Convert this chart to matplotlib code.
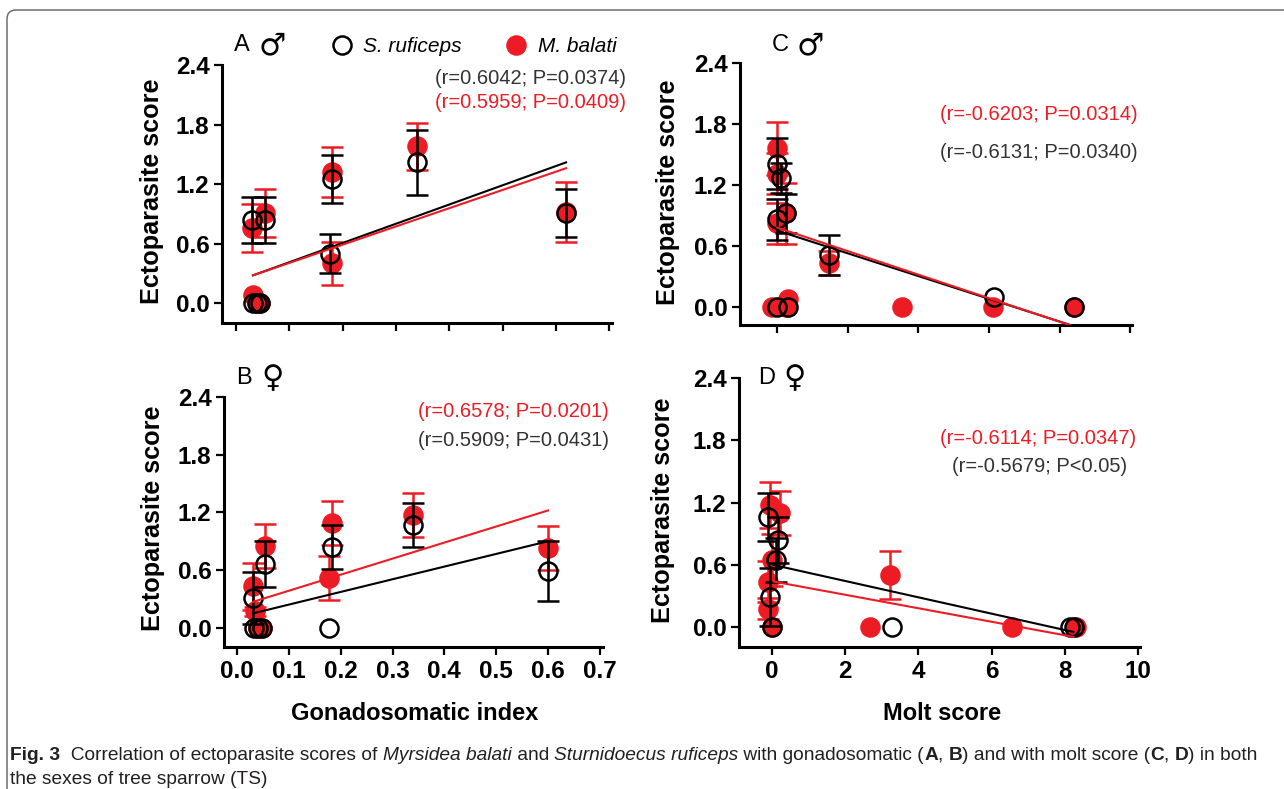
import numpy as np
import matplotlib
matplotlib.use('Agg')
import matplotlib.pyplot as plt
from matplotlib.lines import Line2D
from matplotlib.patches import FancyBboxPatch
from matplotlib.transforms import IdentityTransform

# ---- data ----
# panel A : males, gonadosomatic index
xA_sr = [0.030, 0.054, 0.033, 0.039, 0.046, 0.181, 0.177, 0.340, 0.619]
yA_sr = [0.84, 0.84, 0.0, 0.0, 0.0, 1.25, 0.50, 1.42, 0.91]
eA_sr = [0.23, 0.23, 0.0, 0.0, 0.0, 0.24, 0.20, 0.33, 0.24]
xA_mb = [0.030, 0.054, 0.032, 0.039, 0.046, 0.180, 0.180, 0.340, 0.619]
yA_mb = [0.76, 0.91, 0.08, 0.0, 0.0, 1.32, 0.40, 1.58, 0.92]
eA_mb = [0.24, 0.24, 0.0, 0.0, 0.0, 0.25, 0.22, 0.24, 0.30]

# panel B : females, gonadosomatic index
xB_sr = [0.031, 0.054, 0.183, 0.178, 0.340, 0.600, 0.033, 0.040, 0.048]
yB_sr = [0.31, 0.66, 0.84, 0.0, 1.07, 0.59, 0.0, 0.0, 0.0]
eB_sr = [0.27, 0.24, 0.23, 0.0, 0.23, 0.31, 0.0, 0.0, 0.0]
xB_mb = [0.031, 0.035, 0.054, 0.183, 0.178, 0.340, 0.600, 0.040, 0.048]
yB_mb = [0.43, 0.17, 0.85, 1.09, 0.52, 1.17, 0.83, 0.0, 0.0]
eB_mb = [0.24, 0.05, 0.23, 0.23, 0.23, 0.23, 0.23, 0.0, 0.0]

# panel C : males, molt score
xC_sr = [0.0, 0.1, 0.0, 0.25, 1.46, 6.13, 0.0, 0.3, 8.4]
yC_sr = [1.41, 1.27, 0.86, 0.92, 0.51, 0.10, 0.0, 0.0, 0.0]
eC_sr = [0.25, 0.15, 0.20, 0.19, 0.20, 0.0, 0.0, 0.0, 0.0]
xC_mb = [0.0, 0.0, 0.0, 0.25, 1.46, 3.53, 6.10, 8.40, -0.15, 0.25, 0.3]
yC_mb = [1.56, 1.31, 0.82, 0.92, 0.43, 0.0, 0.0, 0.0, 0.0, 0.0, 0.08]
eC_mb = [0.26, 0.20, 0.20, 0.30, 0.12, 0.0, 0.0, 0.0, 0.0, 0.0, 0.0]

# panel D : females, molt score
xD_sr = [-0.1, 0.17, 0.1, -0.05, 0.0, 3.27, 8.15, 8.25]
yD_sr = [1.06, 0.84, 0.65, 0.29, 0.0, 0.0, 0.0, 0.0]
eD_sr = [0.23, 0.22, 0.21, 0.28, 0.0, 0.0, 0.0, 0.0]
xD_mb = [-0.05, 0.22, 0.0, -0.1, -0.1, 0.0, 3.22, 2.68, 6.55, 8.3]
yD_mb = [1.18, 1.10, 0.65, 0.44, 0.18, 0.0, 0.50, 0.0, 0.0, 0.0]
eD_mb = [0.22, 0.21, 0.25, 0.20, 0.10, 0.0, 0.23, 0.0, 0.0, 0.0]

# regression lines: slope, intercept, x range
fitA_sr = (1.94, 0.218, 0.032, 0.619)
fitA_mb = (1.84, 0.221, 0.032, 0.619)
fitB_sr = (1.318, 0.109, 0.031, 0.600)
fitB_mb = (1.67, 0.218, 0.031, 0.600)
fitC_sr = (-0.112, 0.75, 0.0, 8.3)
fitC_mb = (-0.116, 0.78, 0.0, 8.3)
fitD_sr = (-0.0787, 0.603, 0.04, 8.23)
fitD_mb = (-0.065, 0.443, 0.04, 8.23)

statsA = ['(r=0.6042; P=0.0374)', '(r=0.5959; P=0.0409)']
statsB = ['(r=0.5909; P=0.0431)', '(r=0.6578; P=0.0201)']
statsC = ['(r=-0.6131; P=0.0340)', '(r=-0.6203; P=0.0314)']
statsD = ['(r=-0.5679; P<0.05)', '(r=-0.6114; P=0.0347)']

RED = '#ed1c24'
W, H = 1284, 789

fig = plt.figure(figsize=(W / 100, H / 100), dpi=100)


def rect(l, t, r, b):
    return [l / W, 1 - b / H, (r - l) / W, (b - t) / H]


def fpos(x, y):
    return x / W, 1 - y / H


def panel(box, xs, ys, es, xm, ym, em, fit_s, fit_m, xlim, ylim, xticks, xfmt, show_xlab):
    ax = fig.add_axes(rect(*box))
    for x, y, e, c, filled in [(xm, ym, em, RED, True), (xs, ys, es, 'black', False)]:
        x = np.array(x); y = np.array(y); e = np.array(e)
        m = e > 0
        ax.errorbar(x[m], y[m], yerr=e[m], fmt='none', ecolor=c, elinewidth=1.8,
                    capsize=8, capthick=1.8, zorder=2 if filled else 4)
        ax.plot(x, y, 'o', ms=13, mfc=c if filled else 'none', mec=c, mew=1.8,
                zorder=3 if filled else 5)
    for fit, c in [(fit_s, 'black'), (fit_m, RED)]:
        k, b, x0, x1 = fit
        xx = np.array([x0, x1])
        ax.plot(xx, k * xx + b, color=c, lw=1.5, zorder=6)
    ax.set_xlim(*xlim)
    ax.set_ylim(*ylim)
    ax.set_yticks([0, 0.6, 1.2, 1.8, 2.4])
    ax.set_yticklabels(['%.1f' % v for v in [0, 0.6, 1.2, 1.8, 2.4]])
    ax.set_xticks(xticks)
    ax.set_xticklabels([xfmt % v for v in xticks] if show_xlab else [])
    for s in ['top', 'right']:
        ax.spines[s].set_visible(False)
    for s in ['left', 'bottom']:
        ax.spines[s].set_linewidth(2.2)
    ax.tick_params(width=1.6, length=6, pad=3, labelsize=17.5)
    for lab in ax.get_xticklabels() + ax.get_yticklabels():
        lab.set_fontweight('bold')
        lab.set_family('Liberation Sans')
    return ax


gsi_ticks = [0.0, 0.1, 0.2, 0.3, 0.4, 0.5, 0.6, 0.7]
molt_ticks = [0, 2, 4, 6, 8, 10]

panel((222, 65, 612, 323), xA_sr, yA_sr, eA_sr, xA_mb, yA_mb, eA_mb, fitA_sr, fitA_mb,
      (-0.026, 0.705), (-0.2, 2.4), gsi_ticks, '%.1f', False)
panel((224, 397, 603, 647), xB_sr, yB_sr, eB_sr, xB_mb, yB_mb, eB_mb, fitB_sr, fitB_mb,
      (-0.025, 0.706), (-0.2, 2.4), gsi_ticks, '%.1f', True)
panel((740, 63, 1132, 325), xC_sr, yC_sr, eC_sr, xC_mb, yC_mb, eC_mb, fitC_sr, fitC_mb,
      (-1.05, 10.05), (-0.18, 2.4), molt_ticks, '%d', False)
panel((739, 378, 1140, 647), xD_sr, yD_sr, eD_sr, xD_mb, yD_mb, eD_mb, fitD_sr, fitD_mb,
      (-0.9, 10.05), (-0.19, 2.4), molt_ticks, '%d', True)

# y labels
for x, y in [(152, 191), (153, 518), (668, 192), (663, 510)]:
    fig.text(*fpos(x, y), 'Ectoparasite score', rotation=90, ha='center', va='center',
             fontsize=18.2, fontweight='bold', family='Liberation Sans')

# x labels
fig.text(*fpos(415, 713), 'Gonadosomatic index', ha='center', va='center',
         fontsize=17, fontweight='bold', family='Liberation Sans')
fig.text(*fpos(942, 713), 'Molt score', ha='center', va='center',
         fontsize=17, fontweight='bold', family='Liberation Sans')

# panel letters and sex symbols
for x, y, s, sym in [(234, 45, 'A', '\u2642'), (236, 378, 'B', '\u2640'),
                     (772, 45, 'C', '\u2642'), (758, 378, 'D', '\u2640')]:
    fig.text(*fpos(x, y), s, ha='left', va='center', fontsize=17, family='Liberation Sans')
    fig.text(*fpos(x + 25, y + 1), sym, ha='left', va='center', fontsize=22, family='DejaVu Sans')

# r / P statistics
stat_pos = [(statsA, (435, 79), (435, 103)), (statsB, (418, 441), (418, 412)),
            (statsC, (940, 152), (940, 115)), (statsD, (952, 467), (940, 438))]
for st, pb, pr in stat_pos:
    fig.text(*fpos(*pb), st[0], ha='left', va='center', fontsize=14.5, color='#333333',
             family='Liberation Sans')
    fig.text(*fpos(*pr), st[1], ha='left', va='center', fontsize=14.5, color=RED,
             family='Liberation Sans')

# legend
handles = [Line2D([], [], ls='none', marker='o', ms=13, mfc='none', mec='black', mew=1.8),
           Line2D([], [], ls='none', marker='o', ms=13, mfc=RED, mec=RED, mew=1.8)]
fig.legend(handles, ['S. ruficeps', 'M. balati'], loc='center', ncol=2,
           bbox_to_anchor=fpos(474, 47), frameon=False, handlelength=1.0, handletextpad=0.55,
           columnspacing=2.1, prop={'family': 'Liberation Sans', 'style': 'italic', 'size': 15})

# caption
cap_font = 'Liberation Sans'
cap_size = 13.8
line1 = [('Fig. 3', 'bold', 'normal'), ('  Correlation of ectoparasite scores of ', 'normal', 'normal'),
         ('Myrsidea balati', 'normal', 'italic'), (' and ', 'normal', 'normal'),
         ('Sturnidoecus ruficeps', 'normal', 'italic'), (' with gonadosomatic (', 'normal', 'normal'),
         ('A', 'bold', 'normal'), (', ', 'normal', 'normal'), ('B', 'bold', 'normal'),
         (') and with molt score (', 'normal', 'normal'), ('C', 'bold', 'normal'),
         (', ', 'normal', 'normal'), ('D', 'bold', 'normal'), (') in both', 'normal', 'normal')]
line2 = [('the sexes of tree sparrow (TS)', 'normal', 'normal')]
renderer = fig.canvas.get_renderer()
for parts, ypix in [(line1, 756), (line2, 779)]:
    xpix = 10
    for s, w, st in parts:
        t = fig.text(*fpos(xpix, ypix), s, ha='left', va='center', fontsize=cap_size,
                     fontweight=w, style=st, family=cap_font, color='#231f20')
        xpix += t.get_window_extent(renderer).width

# outer frame
frame = FancyBboxPatch((7, -12), 1300, 791, boxstyle='round,pad=0,rounding_size=9',
                       transform=IdentityTransform(), fill=False, ec='#6e6e6e', lw=1.1)
fig.patches.append(frame)

fig.savefig('out.png', dpi=100)
